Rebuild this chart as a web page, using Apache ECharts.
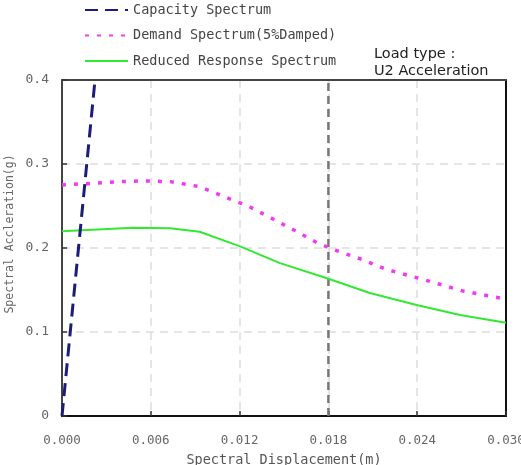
<!DOCTYPE html>
<html>
<head>
<meta charset="utf-8">
<script src="https://cdn.jsdelivr.net/npm/echarts@6/dist/echarts.min.js"></script>
<style>
  html, body { margin: 0; padding: 0; background: #fff; }
  #chart { width: 521px; height: 465px; }
</style>
</head>
<body>
<div id="chart"></div>
<script>
// --- data ---
const capacityX = [0.0, 0.00223];
const capacityY = [0.0, 0.4];

const demandX = [0.0, 0.002, 0.004, 0.0055, 0.0073, 0.0093, 0.01155, 0.01257, 0.01426, 0.01588, 0.01723, 0.0183, 0.02025, 0.0219, 0.02453, 0.0271, 0.030];
const demandY = [0.275, 0.277, 0.279, 0.280, 0.279, 0.273, 0.257, 0.250, 0.2345, 0.2194, 0.2063, 0.1984, 0.1865, 0.1746, 0.1619, 0.1488, 0.139];

const reducedX = [0.0, 0.0048, 0.0073, 0.0093, 0.01203, 0.01473, 0.0179, 0.0208, 0.02396, 0.0269, 0.030];
const reducedY = [0.220, 0.224, 0.2235, 0.2194, 0.202, 0.182, 0.164, 0.1464, 0.1321, 0.1202, 0.111];

// vertical marker (performance point displacement)
const markerX = [0.018, 0.018];
const markerY = [0.0, 0.4];

const pair = (xs, ys) => xs.map((x, i) => [x, ys[i]]);

const chart = echarts.init(document.getElementById('chart'));
const mono = 'DejaVu Sans Mono';

chart.setOption({
  animation: false,
  backgroundColor: '#fff',
  grid: {
    left: 62, right: 15, top: 80, bottom: 49,
    outerBoundsMode: 'none', containLabel: false
  },
  legend: {
    orient: 'vertical',
    left: 84, top: 3, padding: 0,
    itemWidth: 43, itemHeight: 14, itemGap: 11.5,
    itemStyle: { opacity: 0 },
    textStyle: { fontFamily: mono, fontSize: 13.5, color: '#444' },
    data: ['Capacity Spectrum', 'Demand Spectrum(5%Damped)', 'Reduced Response Spectrum']
  },
  xAxis: [
    {
      type: 'value', min: 0, max: 0.03, interval: 0.006,
      name: 'Spectral Displacement(m)',
      nameLocation: 'middle', nameGap: 37,
      nameTextStyle: { fontFamily: mono, fontSize: 13.5, color: '#555' },
      axisLine: { onZero: false, lineStyle: { color: '#111', width: 2 } },
      axisTick: { inside: true, length: 5, lineStyle: { color: '#333', width: 1.5 } },
      axisLabel: { margin: 18, fontFamily: mono, fontSize: 12.5, color: '#666',
        formatter: v => v.toFixed(3) },
      splitLine: { lineStyle: { color: '#ddd', type: [8, 6], width: 1.5 } }
    },
    {
      type: 'value', position: 'top', min: 0, max: 0.03,
      axisLine: { show: true, onZero: false, lineStyle: { color: '#444', width: 2 } },
      axisTick: { show: false }, axisLabel: { show: false }, splitLine: { show: false }
    }
  ],
  yAxis: [
    {
      type: 'value', min: 0, max: 0.4, interval: 0.1,
      axisLine: { show: true, onZero: false, lineStyle: { color: '#444', width: 2 } },
      axisTick: { show: true, inside: true, length: 5, lineStyle: { color: '#333', width: 1.5 } },
      axisLabel: { margin: 13, fontFamily: mono, fontSize: 13, color: '#666',
        formatter: v => v === 0 ? '0' : v.toFixed(1) },
      splitLine: { lineStyle: { color: '#ddd', type: [8, 6], width: 1.5 } }
    },
    {
      type: 'value', position: 'right', min: 0, max: 0.4,
      axisLine: { show: true, onZero: false, lineStyle: { color: '#111', width: 2 } },
      axisTick: { show: false }, axisLabel: { show: false }, splitLine: { show: false }
    }
  ],
  graphic: [
    {
      type: 'text', left: 374, top: 46,
      style: {
        text: 'Load type :\nU2 Acceleration',
        font: '14.5px "DejaVu Sans"', fill: '#222', lineHeight: 17
      }
    },
    {
      type: 'text', x: 10, y: 234, rotation: Math.PI / 2,
      style: {
        text: 'Spectral Accleration(g)',
        font: '11.5px "DejaVu Sans Mono"', fill: '#666',
        align: 'center', verticalAlign: 'middle'
      }
    }
  ],
  series: [
    {
      name: 'marker', type: 'line', symbol: 'none', silent: true,
      data: pair(markerX, markerY),
      lineStyle: { color: '#777', type: [8, 5], width: 2.5 }, z: 2
    },
    {
      name: 'Capacity Spectrum', type: 'line', symbol: 'none',
      data: pair(capacityX, capacityY),
      lineStyle: { color: '#1c1c7a', width: 3, type: [13, 7] },
      itemStyle: { color: '#1c1c7a' }, z: 4
    },
    {
      name: 'Demand Spectrum(5%Damped)', type: 'line', symbol: 'none',
      data: pair(demandX, demandY),
      lineStyle: { color: '#f03cf0', width: 3.5, type: [4, 8] },
      itemStyle: { color: '#f03cf0' }, z: 3
    },
    {
      name: 'Reduced Response Spectrum', type: 'line', symbol: 'none',
      data: pair(reducedX, reducedY),
      lineStyle: { color: '#33e833', width: 2 },
      itemStyle: { color: '#33e833' }, z: 3
    }
  ]
});
</script>
</body>
</html>
